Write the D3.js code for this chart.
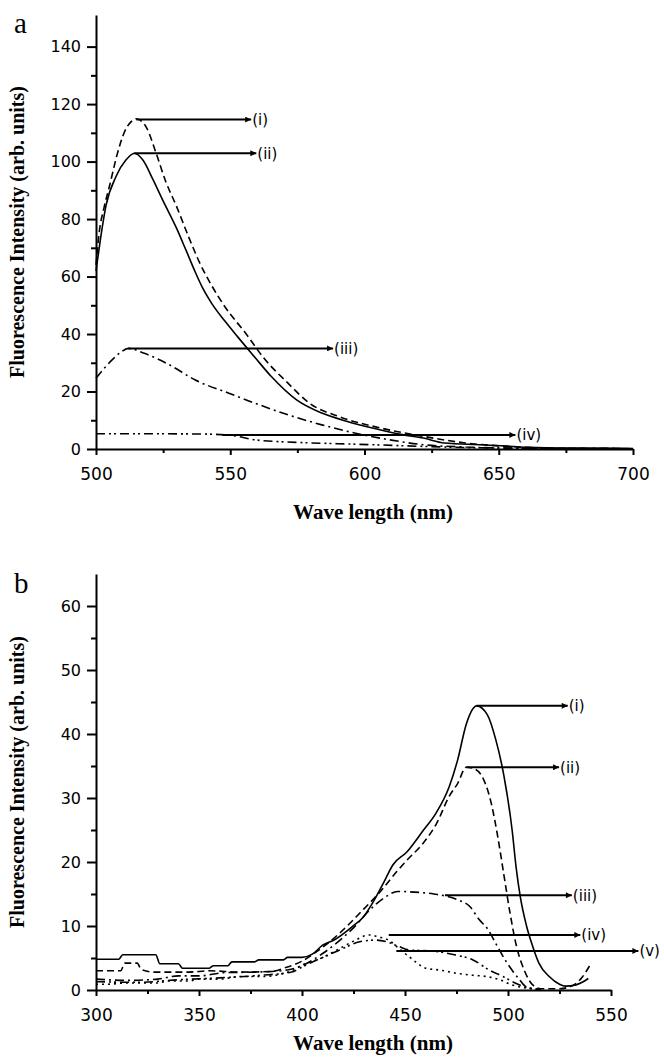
<!DOCTYPE html>
<html>
<head>
<meta charset="utf-8">
<script src="https://cdn.jsdelivr.net/npm/d3@7"></script>
<style>
  body { margin: 0; background: #fff; }
  svg { display: block; }
  .tick text { fill: #000; }
</style>
</head>
<body>
<div id="chart"></div>
<script>
// ---- panel a data (wavelength nm, intensity arb. units) ----
var aWl_i   = [500, 501.2, 503, 505, 508, 510.6, 513, 515, 517, 518.7, 522.4, 526, 529.9, 534.8, 538.5, 543, 548, 555.8, 562.1, 571.5, 579.4, 590.4, 606, 621.9, 637.6, 653.3, 669, 700];
var aInt_i  = [64, 75.4, 84, 91.4, 102.9, 110.3, 113.8, 114.9, 114, 112, 102.9, 93, 84.6, 73.1, 65, 57, 49.5, 40.2, 32.1, 22.9, 16, 11.3, 7.3, 4.4, 2.1, 0.9, 0.3, 0.1];
var aWl_ii  = [500, 501.5, 503.7, 507.5, 511.2, 514.3, 517.4, 521.1, 524.9, 529.9, 533.6, 537, 540, 543.2, 548, 552.7, 559, 565.3, 574.7, 584.1, 593.6, 603, 614, 621.9, 629.7, 643.9, 661, 680, 700];
var aInt_ii = [62, 72, 84.6, 94.9, 100.6, 102.9, 100.6, 94, 86.5, 77, 69, 61.5, 55.5, 50.5, 44.5, 39.1, 32.1, 25.2, 17.1, 12.5, 9.6, 7.3, 5, 3.8, 2.1, 1.5, 0.6, 0.3, 0.2];
var aWl_iii  = [500, 503, 506, 509, 512, 518, 527.5, 537, 549.5, 559, 571.5, 584.1, 596.7, 609.3, 621.9, 637.6, 655, 700];
var aInt_iii = [24.6, 28, 31, 33.5, 35, 33.3, 29.2, 24, 19.4, 16, 11.9, 8.4, 5.5, 3.2, 1.5, 0.7, 0.3, 0.1];
var aWl_iv  = [500, 520, 540, 550, 559, 575, 590, 606, 622, 638, 655, 670, 700];
var aInt_iv = [5.3, 5.3, 5.2, 4.8, 3.2, 2.3, 1.85, 1.4, 0.9, 0.5, 0.3, 0.2, 0.1];

// arrows: [start nm, level, end nm, label]
var aArrows = [[515, 114.6, 557.8, "(i)"], [514.3, 102.9, 559.7, "(ii)"], [512, 35, 588.3, "(iii)"], [547, 4.9, 656.2, "(iv)"]];

var aXTicks = [500, 550, 600, 650, 700];
var aXMinor = [525, 575, 625, 675];
var aYTicks = [0, 20, 40, 60, 80, 100, 120, 140];
var aYMinor = [10, 30, 50, 70, 90, 110, 130];

// ---- panel b data ----
var bWl_i   = [300, 311, 313, 329, 331, 340, 342, 355, 357, 364, 366, 377, 379, 391, 393, 400, 405, 410, 416, 424, 430, 435, 440, 444, 451, 459, 465, 471.5, 475.6, 479.7, 484.8, 490, 494, 498, 502, 504, 506, 509, 512, 515, 520, 525, 528, 533, 536, 539];
var bInt_i  = [4.8, 4.8, 5.5, 5.5, 4.1, 4.1, 3.4, 3.4, 3.8, 3.8, 4.4, 4.4, 4.7, 4.7, 5.1, 5.1, 5.6, 7.0, 7.9, 9.8, 11.5, 14, 17, 19.5, 21.6, 25, 27.6, 31.8, 36, 41.5, 44.4, 43, 39.2, 33.5, 25, 19, 14.5, 10, 6.8, 4.2, 2.1, 0.9, 0.6, 0.8, 1.2, 1.8];
var bWl_ii  = [300, 312, 314, 320, 322, 328, 332, 345, 355, 370, 385, 392, 400, 408, 418, 428, 438.6, 446, 451, 459, 465.3, 471.5, 475.6, 479.7, 484, 488, 492, 495, 498, 501, 504, 508, 512, 516, 525, 532, 536, 540];
var bInt_ii = [3.0, 3.0, 4.2, 4.2, 3.2, 2.8, 2.8, 2.8, 3.0, 2.8, 2.9, 3.5, 4.5, 6.2, 8.8, 12, 15.6, 18.5, 20.3, 23, 26, 30.3, 32.3, 34.8, 34.5, 33, 29, 24, 18, 12, 7, 3, 0.8, 0.2, 0.2, 0.8, 2, 4];
var bWl_iii  = [300, 315, 330, 340, 350, 362, 377, 390, 400, 410, 424, 434.5, 440.8, 446.4, 454.4, 464, 475.6, 481.6, 486, 490.4, 494, 499.2, 502.4, 505.6, 508.8, 515];
var bInt_iii = [1.7, 1.5, 1.7, 2.2, 2.2, 2.7, 2.8, 3.0, 3.8, 5.7, 9.4, 13, 14.6, 15.4, 15.3, 15, 14.1, 13, 11, 9.4, 7.3, 4.4, 2.9, 1.6, 0.5, 0.1];
var bWl_iv  = [300, 305, 315, 330, 335, 345, 350, 360, 370, 380, 395, 400, 408.8, 418.4, 424.8, 432.8, 437, 442, 447, 452, 456, 460, 467.2, 475.2, 483, 489.6, 496, 502, 508.8, 515];
var bInt_iv = [0.9, 0.9, 1.1, 1.1, 1.4, 1.4, 1.7, 1.7, 2.1, 2.1, 3.0, 3.9, 4.9, 6.5, 7.6, 8.6, 8.3, 7.8, 6.5, 5.2, 4.2, 3.4, 3.1, 2.6, 2.3, 2.1, 1.6, 0.8, 0.3, 0.1];
var bWl_v  = [300, 320, 340, 360, 380, 395, 400, 418.4, 428, 436, 441, 447, 452, 463, 474, 483, 491, 497.6, 504, 510.4, 516];
var bInt_v = [1.3, 1.2, 1.6, 1.9, 2.3, 2.8, 3.6, 6.25, 7.55, 7.8, 7.55, 6.8, 6.25, 6.1, 5.5, 4.7, 3.1, 2.1, 1.0, 0.3, 0.1];

var bArrows = [[484.8, 44.4, 529, "(i)"], [479.7, 34.8, 524.8, "(ii)"], [469.4, 14.8, 531, "(iii)"], [442.1, 8.6, 535.1, "(iv)"], [445.8, 6.1, 563.3, "(v)"]];

var bXTicks = [300, 350, 400, 450, 500, 550];
var bXMinor = [325, 375, 425, 475, 525];
var bYTicks = [0, 10, 20, 30, 40, 50, 60];
var bYMinor = [5, 15, 25, 35, 45, 55];

var W = 664, H = 1058;
var svg = d3.select("#chart").append("svg")
    .attr("width", W)
    .attr("height", H)
    .style("font-family", "'DejaVu Sans', sans-serif");

// arrow head
svg.append("defs").append("marker")
    .attr("id", "head")
    .attr("viewBox", "0 0 10 10")
    .attr("refX", 10).attr("refY", 5)
    .attr("markerUnits", "userSpaceOnUse")
    .attr("markerWidth", 7).attr("markerHeight", 6)
    .attr("orient", "auto")
  .append("path")
    .attr("d", "M0,0L10,5L0,10z")
    .attr("fill", "#000");

var dashes = {
    solid: null,
    dash: "7,4",
    dashdot: "9,4,2,4",
    dashdotdot: "9,4,2,3,2,4",
    dot: "2,4"
};

function drawPanel(cfg) {
    var g = svg.append("g");
    var x = d3.scaleLinear().domain(cfg.xDomain).range(cfg.xRange);
    var y = d3.scaleLinear().domain(cfg.yDomain).range(cfg.yRange);

    // minor ticks
    g.append("g").attr("transform", "translate(0," + cfg.yRange[0] + ")")
        .call(d3.axisBottom(x).tickValues(cfg.xMinor).tickSize(4).tickSizeOuter(0).tickFormat(""))
        .call(s => s.select(".domain").remove());
    g.append("g").attr("transform", "translate(" + cfg.xRange[0] + ",0)")
        .call(d3.axisLeft(y).tickValues(cfg.yMinor).tickSize(5).tickSizeOuter(0).tickFormat(""))
        .call(s => s.select(".domain").remove());

    // major axes
    var xAxis = g.append("g").attr("transform", "translate(0," + cfg.yRange[0] + ")")
        .call(d3.axisBottom(x).tickValues(cfg.xTicks).tickSize(6).tickSizeOuter(0).tickPadding(13));
    xAxis.selectAll("text").style("font-size", "17px").style("font-family", "'DejaVu Sans', sans-serif");

    var yAxis = g.append("g").attr("transform", "translate(" + cfg.xRange[0] + ",0)")
        .call(d3.axisLeft(y).tickValues(cfg.yTicks).tickSize(9).tickSizeOuter(0).tickPadding(6));
    yAxis.selectAll("text").style("font-size", "16px").style("font-family", "'DejaVu Sans', sans-serif");

    g.selectAll(".domain, .tick line").attr("stroke", "#000").attr("stroke-width", 2);

    // curves
    var line = d3.line().x(d => x(d[0])).y(d => y(d[1])).curve(d3.curveMonotoneX);
    cfg.series.forEach(function (s) {
        var pts = s.wl.map((w, i) => [w, s.val[i]]);
        g.append("path")
            .datum(pts)
            .attr("d", line)
            .attr("fill", "none")
            .attr("stroke", "#000")
            .attr("stroke-width", 1.6)
            .attr("stroke-dasharray", dashes[s.style]);
    });

    // arrows + labels
    cfg.arrows.forEach(function (a) {
        g.append("line")
            .attr("x1", x(a[0])).attr("y1", y(a[1]))
            .attr("x2", x(a[2])).attr("y2", y(a[1]))
            .attr("stroke", "#000").attr("stroke-width", 2)
            .attr("marker-end", "url(#head)");
        g.append("text")
            .attr("x", x(a[2]) + 1).attr("y", y(a[1]))
            .attr("dy", "0.36em")
            .style("font-size", "15px")
            .text(a[3]);
    });

    // titles
    g.append("text")
        .attr("x", cfg.xTitleX).attr("y", cfg.xTitleY)
        .attr("text-anchor", "middle")
        .style("font-family", "'Liberation Serif', 'Times New Roman', serif")
        .style("font-weight", "bold")
        .style("font-size", "21px")
        .text("Wave length (nm)");
    g.append("text")
        .attr("transform", "translate(24," + ((cfg.yRange[0] + cfg.yRange[1]) / 2) + ") rotate(-90)")
        .attr("text-anchor", "middle")
        .style("font-family", "'Liberation Serif', 'Times New Roman', serif")
        .style("font-weight", "bold")
        .style("font-size", "20px")
        .text("Fluorescence Intensity (arb. units)");
    g.append("text")
        .attr("x", 14).attr("y", cfg.letterY)
        .style("font-family", "'Liberation Serif', 'Times New Roman', serif")
        .style("font-size", "29px")
        .text(cfg.letter);
}

drawPanel({
    letter: "a", letterY: 33,
    xDomain: [500, 700], xRange: [96, 633],
    yDomain: [0, 151], yRange: [449, 15],
    xTicks: aXTicks, xMinor: aXMinor, yTicks: aYTicks, yMinor: aYMinor,
    xTitleX: 373, xTitleY: 519,
    series: [
        { wl: aWl_i, val: aInt_i, style: "dash" },
        { wl: aWl_ii, val: aInt_ii, style: "solid" },
        { wl: aWl_iii, val: aInt_iii, style: "dashdot" },
        { wl: aWl_iv, val: aInt_iv, style: "dashdotdot" }
    ],
    arrows: aArrows
});

drawPanel({
    letter: "b", letterY: 593,
    xDomain: [300, 550], xRange: [96, 611],
    yDomain: [0, 65], yRange: [990, 574],
    xTicks: bXTicks, xMinor: bXMinor, yTicks: bYTicks, yMinor: bYMinor,
    xTitleX: 373, xTitleY: 1050,
    series: [
        { wl: bWl_i, val: bInt_i, style: "solid" },
        { wl: bWl_ii, val: bInt_ii, style: "dash" },
        { wl: bWl_iii, val: bInt_iii, style: "dashdot" },
        { wl: bWl_iv, val: bInt_iv, style: "dot" },
        { wl: bWl_v, val: bInt_v, style: "dashdotdot" }
    ],
    arrows: bArrows
});
</script>
</body>
</html>
